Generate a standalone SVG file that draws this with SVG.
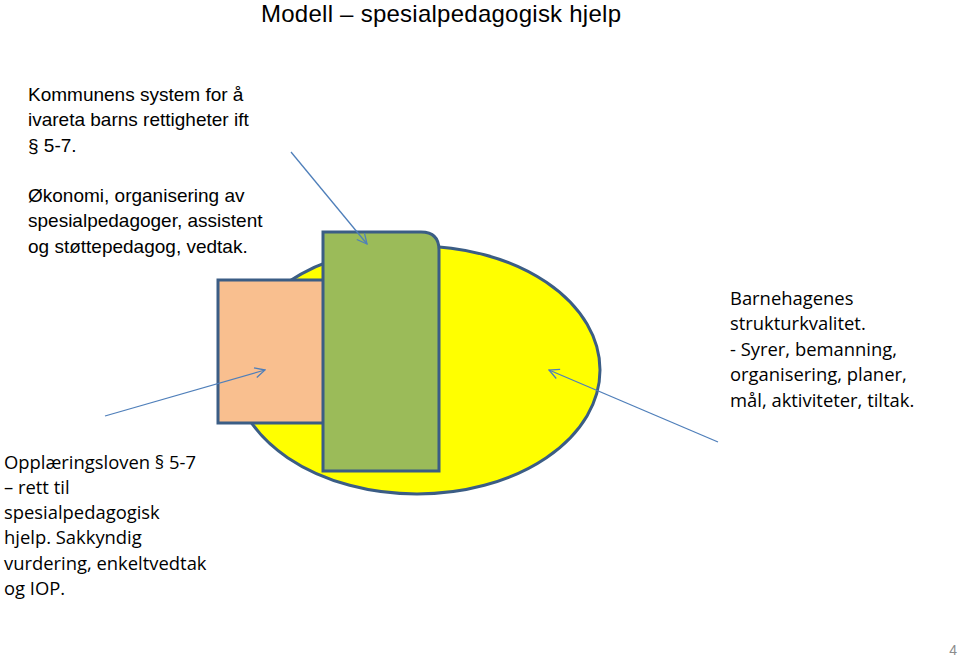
<svg xmlns="http://www.w3.org/2000/svg" width="959" height="658" viewBox="0 0 959 658">
<defs>
<style>
.t{font-family:"Liberation Sans",Arial,sans-serif;font-size:19px;fill:#000}
.c{font-family:"Open Sans","Liberation Sans",sans-serif;font-size:18.4px;fill:#000}
.shape{stroke:#3b5d85;stroke-width:3}
.arr{stroke:#4f7fba;stroke-width:1.3;fill:none}
</style>
<marker id="open" viewBox="0 0 12 12" refX="11" refY="6" markerWidth="12" markerHeight="12" markerUnits="userSpaceOnUse" orient="auto">
<path d="M1,1 L11,6 L1,11" fill="none" stroke="#4f7fba" stroke-width="1.3"/>
</marker>
</defs>
<rect width="959" height="658" fill="#fff"/>
<text x="441" y="22" text-anchor="middle" textLength="360" style="font-family:'Liberation Sans',Arial,sans-serif;font-size:24px">Modell – spesialpedagogisk hjelp</text>
<g id="ellipse"><ellipse class="shape" cx="417" cy="370" rx="183" ry="124" fill="#ffff00"/></g>
<g id="orange"><rect class="shape" x="218" y="280" width="106" height="143" fill="#f9bf8f"/></g>
<g id="green"><path class="shape" d="M323,232 H421 Q439,232 439,250 V471 H323 Z" fill="#9bbb59"/></g>
<g id="connectors">
<line class="arr" x1="291" y1="152" x2="367" y2="244" marker-end="url(#open)"/>
<line class="arr" x1="105" y1="416" x2="265" y2="370" marker-end="url(#open)"/>
<line class="arr" x1="718" y1="442" x2="549" y2="370" marker-end="url(#open)"/>
</g>
<g id="text-top">
<text class="t" x="28" y="101">Kommunens system for å</text>
<text class="t" x="28" y="126">ivareta barns rettigheter ift</text>
<text class="t" x="28" y="152">§ 5-7.</text>
<text class="t" x="28" y="202">Økonomi, organisering av</text>
<text class="t" x="28" y="227">spesialpedagoger, assistent</text>
<text class="t" x="28" y="253">og støttepedagog, vedtak.</text>
</g>
<g id="text-right">
<text class="c" x="730" y="305">Barnehagenes</text>
<text class="c" x="730" y="330">strukturkvalitet.</text>
<text class="c" x="730" y="356">- Syrer, bemanning,</text>
<text class="c" x="730" y="381">organisering, planer,</text>
<text class="c" x="730" y="407">mål, aktiviteter, tiltak.</text>
</g>
<g id="text-bottom">
<text class="c" x="4" y="469">Opplæringsloven § 5-7</text>
<text class="c" x="4" y="494">– rett til</text>
<text class="c" x="4" y="519">spesialpedagogisk</text>
<text class="c" x="4" y="544">hjelp. Sakkyndig</text>
<text class="c" x="4" y="570">vurdering, enkeltvedtak</text>
<text class="c" x="4" y="595">og IOP.</text>
</g>
<text x="957" y="655" text-anchor="end" style="font-family:'Liberation Sans',Arial,sans-serif;font-size:14px;fill:#8c8c8c">4</text>
</svg>
